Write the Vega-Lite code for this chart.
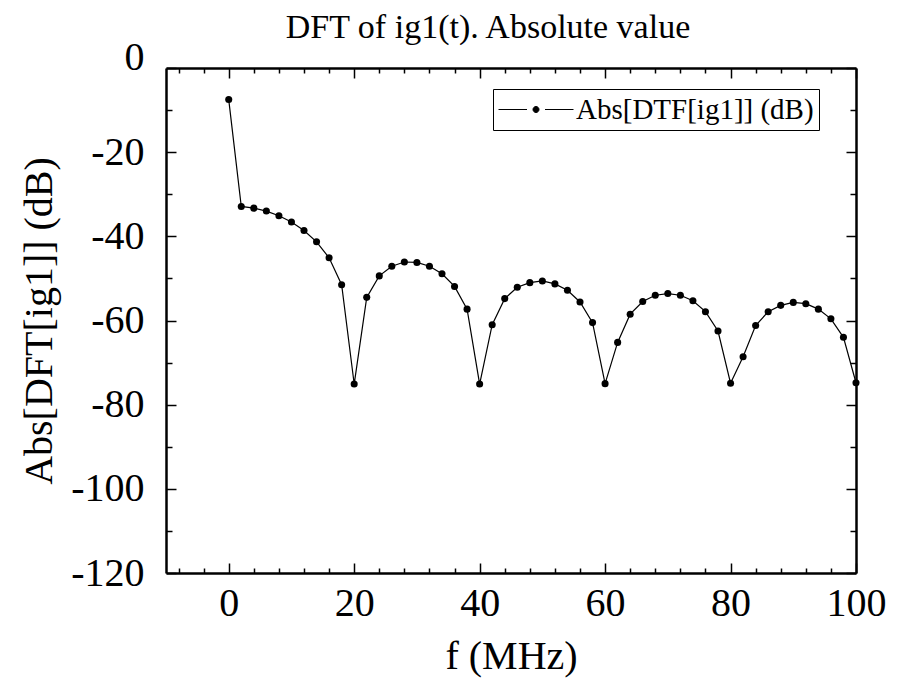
{
  "$schema": "https://vega.github.io/schema/vega-lite/v6.json",
  "width": 690,
  "height": 505,
  "autosize": {"type": "none"},
  "padding": {"left": 166, "top": 68, "right": 44, "bottom": 107},
  "background": "white",
  "title": {
    "text": "DFT of ig1(t). Absolute value",
    "font": "Liberation Serif",
    "fontSize": 34,
    "fontWeight": "normal",
    "color": "black",
    "baseline": "alphabetic",
    "anchor": "middle",
    "frame": "group",
    "offset": -35,
    "dx": -23
  },
  "config": {
    "font": "Liberation Serif",
    "title": {"font": "Liberation Serif", "fontWeight": "normal"},
    "view": {"stroke": null},
    "axis": {
      "grid": false,
      "domainColor": "black",
      "domainWidth": 2.5,
      "tickColor": "black",
      "tickWidth": 1.5,
      "labelColor": "black",
      "labelFont": "Liberation Serif",
      "labelFontSize": 40,
      "titleFont": "Liberation Serif",
      "titleFontSize": 40,
      "titleFontWeight": "normal",
      "titleColor": "black",
      "labelFlush": false,
      "labelOverlap": false
    },
    "legend": {
      "labelFont": "Liberation Serif",
      "labelFontSize": 29,
      "labelColor": "black",
      "labelLimit": 500
    }
  },
  "data": {
    "values": [
      {"f": 0, "db": -7.5, "series": "Abs[DTF[ig1]] (dB)"},
      {"f": 2, "db": -32.9, "series": "Abs[DTF[ig1]] (dB)"},
      {"f": 4, "db": -33.3, "series": "Abs[DTF[ig1]] (dB)"},
      {"f": 6, "db": -34.0, "series": "Abs[DTF[ig1]] (dB)"},
      {"f": 8, "db": -35.1, "series": "Abs[DTF[ig1]] (dB)"},
      {"f": 10, "db": -36.6, "series": "Abs[DTF[ig1]] (dB)"},
      {"f": 12, "db": -38.6, "series": "Abs[DTF[ig1]] (dB)"},
      {"f": 14, "db": -41.3, "series": "Abs[DTF[ig1]] (dB)"},
      {"f": 16, "db": -45.1, "series": "Abs[DTF[ig1]] (dB)"},
      {"f": 18, "db": -51.5, "series": "Abs[DTF[ig1]] (dB)"},
      {"f": 20, "db": -75.1, "series": "Abs[DTF[ig1]] (dB)"},
      {"f": 22, "db": -54.5, "series": "Abs[DTF[ig1]] (dB)"},
      {"f": 24, "db": -49.4, "series": "Abs[DTF[ig1]] (dB)"},
      {"f": 26, "db": -47.1, "series": "Abs[DTF[ig1]] (dB)"},
      {"f": 28, "db": -46.1, "series": "Abs[DTF[ig1]] (dB)"},
      {"f": 30, "db": -46.2, "series": "Abs[DTF[ig1]] (dB)"},
      {"f": 32, "db": -47.1, "series": "Abs[DTF[ig1]] (dB)"},
      {"f": 34, "db": -48.9, "series": "Abs[DTF[ig1]] (dB)"},
      {"f": 36, "db": -51.9, "series": "Abs[DTF[ig1]] (dB)"},
      {"f": 38, "db": -57.3, "series": "Abs[DTF[ig1]] (dB)"},
      {"f": 40, "db": -75.1, "series": "Abs[DTF[ig1]] (dB)"},
      {"f": 42, "db": -61.0, "series": "Abs[DTF[ig1]] (dB)"},
      {"f": 44, "db": -54.8, "series": "Abs[DTF[ig1]] (dB)"},
      {"f": 46, "db": -52.1, "series": "Abs[DTF[ig1]] (dB)"},
      {"f": 48, "db": -51.0, "series": "Abs[DTF[ig1]] (dB)"},
      {"f": 50, "db": -50.6, "series": "Abs[DTF[ig1]] (dB)"},
      {"f": 52, "db": -51.3, "series": "Abs[DTF[ig1]] (dB)"},
      {"f": 54, "db": -52.8, "series": "Abs[DTF[ig1]] (dB)"},
      {"f": 56, "db": -55.6, "series": "Abs[DTF[ig1]] (dB)"},
      {"f": 58, "db": -60.5, "series": "Abs[DTF[ig1]] (dB)"},
      {"f": 60, "db": -75.0, "series": "Abs[DTF[ig1]] (dB)"},
      {"f": 62, "db": -65.2, "series": "Abs[DTF[ig1]] (dB)"},
      {"f": 64, "db": -58.5, "series": "Abs[DTF[ig1]] (dB)"},
      {"f": 66, "db": -55.5, "series": "Abs[DTF[ig1]] (dB)"},
      {"f": 68, "db": -54.0, "series": "Abs[DTF[ig1]] (dB)"},
      {"f": 70, "db": -53.6, "series": "Abs[DTF[ig1]] (dB)"},
      {"f": 72, "db": -54.0, "series": "Abs[DTF[ig1]] (dB)"},
      {"f": 74, "db": -55.3, "series": "Abs[DTF[ig1]] (dB)"},
      {"f": 76, "db": -57.9, "series": "Abs[DTF[ig1]] (dB)"},
      {"f": 78, "db": -62.5, "series": "Abs[DTF[ig1]] (dB)"},
      {"f": 80, "db": -74.9, "series": "Abs[DTF[ig1]] (dB)"},
      {"f": 82, "db": -68.6, "series": "Abs[DTF[ig1]] (dB)"},
      {"f": 84, "db": -61.2, "series": "Abs[DTF[ig1]] (dB)"},
      {"f": 86, "db": -57.9, "series": "Abs[DTF[ig1]] (dB)"},
      {"f": 88, "db": -56.4, "series": "Abs[DTF[ig1]] (dB)"},
      {"f": 90, "db": -55.7, "series": "Abs[DTF[ig1]] (dB)"},
      {"f": 92, "db": -56.0, "series": "Abs[DTF[ig1]] (dB)"},
      {"f": 94, "db": -57.3, "series": "Abs[DTF[ig1]] (dB)"},
      {"f": 96, "db": -59.6, "series": "Abs[DTF[ig1]] (dB)"},
      {"f": 98, "db": -64.0, "series": "Abs[DTF[ig1]] (dB)"},
      {"f": 100, "db": -74.8, "series": "Abs[DTF[ig1]] (dB)"}
    ]
  },
  "layer": [
    {
      "mark": {"type": "line", "color": "black", "strokeWidth": 1.2},
      "encoding": {
        "x": {
          "field": "f",
          "type": "quantitative",
          "scale": {"domain": [-10, 100], "nice": false, "zero": false},
          "axis": {
            "orient": "bottom",
            "title": "f (MHz)",
            "titlePadding": 8,
            "values": [-8, -4, 0, 4, 8, 12, 16, 20, 24, 28, 32, 36, 40, 44, 48, 52, 56, 60, 64, 68, 72, 76, 80, 84, 88, 92, 96, 100],
            "labelExpr": "datum.value % 20 == 0 ? datum.label : ''",
            "tickSize": {"condition": {"test": "datum.value % 20 == 0", "value": -10}, "value": -5},
            "labelPadding": 20
          }
        },
        "y": {
          "field": "db",
          "type": "quantitative",
          "scale": {"domain": [-120, 0], "nice": false, "zero": false},
          "axis": {
            "orient": "left",
            "title": "Abs[DFT[ig1]] (dB)",
            "titlePadding": 11,
            "values": [-120, -110, -100, -90, -80, -70, -60, -50, -40, -30, -20, -10, 0],
            "labelExpr": "datum.value % 20 == 0 ? replace(datum.label, '−', '-') : ''",
            "tickSize": {"condition": {"test": "datum.value % 20 == 0", "value": -10}, "value": -6},
            "labelOffset": {"condition": {"test": "datum.value == 0", "value": -11}, "value": 0},
            "labelPadding": 32
          }
        },
        "color": {
          "field": "series",
          "type": "nominal",
          "scale": {"range": ["black"]},
          "legend": {
            "title": null,
            "orient": "none",
            "legendX": 327,
            "legendY": 21,
            "padding": 5,
            "strokeColor": "black",
            "fillColor": "white",
            "symbolType": "M-1,0L0.9,0M2.1,0L4,0M1.3,0A0.2,0.2 0 1,0 1.7,0A0.2,0.2 0 1,0 1.3,0Z",
            "symbolSize": 900,
            "symbolStrokeWidth": 1,
            "symbolFillColor": "black",
            "symbolStrokeColor": "black",
            "labelOffset": 47
          }
        }
      }
    },
    {
      "mark": {"type": "point", "filled": true, "size": 50, "color": "black", "opacity": 1},
      "encoding": {
        "x": {
          "field": "f",
          "type": "quantitative",
          "axis": {
            "orient": "top",
            "title": null,
            "labels": false,
            "values": [-8, -4, 0, 4, 8, 12, 16, 20, 24, 28, 32, 36, 40, 44, 48, 52, 56, 60, 64, 68, 72, 76, 80, 84, 88, 92, 96, 100],
            "tickSize": {"condition": {"test": "datum.value % 20 == 0", "value": -10}, "value": -5}
          }
        },
        "y": {
          "field": "db",
          "type": "quantitative",
          "axis": {
            "orient": "right",
            "title": null,
            "labels": false,
            "values": [-120, -110, -100, -90, -80, -70, -60, -50, -40, -30, -20, -10, 0],
            "tickSize": {"condition": {"test": "datum.value % 20 == 0", "value": -10}, "value": -6}
          }
        }
      }
    }
  ],
  "resolve": {"axis": {"x": "independent", "y": "independent"}}
}
